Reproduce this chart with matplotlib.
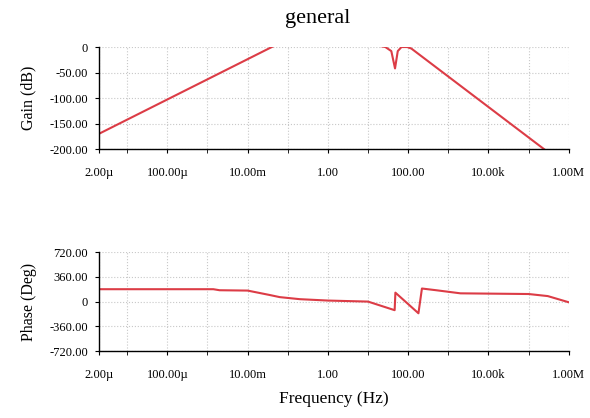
import numpy as np
import matplotlib
matplotlib.use("Agg")
import matplotlib.pyplot as plt
from matplotlib.ticker import NullFormatter

plt.rcParams['font.family'] = ['Liberation Serif', 'DejaVu Serif']

''' Data read off the Bode plot '''
gain_freq = [2e-6, 0.045, 1.0, 20.0, 27.0, 38.0, 47.0, 55.0, 68.0, 95.0, 120.0, 2.4e5, 1e6]
gain_db = [-170, 2, 40, 2, 0, -8, -42, -8, 0, 0, -3, -200, -237]

phase_freq = [2e-6, 1.4e-3, 2e-3, 1e-2, 0.036, 0.063, 0.2, 1.0, 10.0, 46.0, 48.0,
              180.0, 220.0, 500.0, 2000.0, 1e5, 3e5, 1e6]
phase_deg = [180, 180, 165, 160, 95, 65, 35, 15, 0, -125, 130,
             -170, 190, 165, 120, 110, 80, -10]

xtick_vals = [2e-6, 1e-4, 1e-2, 1.0, 1e2, 1e4, 1e6]
xtick_text = ['2.00\u00b5', '100.00\u00b5', '10.00m', '1.00', '100.00', '10.00k', '1.00M']
xminor_vals = [1e-5, 1e-3, 1e-1, 1e1, 1e3, 1e5]

gain_ticks = [0, -50, -100, -150, -200]
gain_text = ['0', '-50.00', '-100.00', '-150.00', '-200.00']
phase_ticks = [720, 360, 0, -360, -720]
phase_text = ['720.00', '360.00', '0', '-360.00', '-720.00']

line_color = '#dc3c46'

fig = plt.figure(figsize=(5.9, 4.18), dpi=100)
ax1 = fig.add_axes([0.168, 0.6435, 0.796, 0.244])
ax2 = fig.add_axes([0.168, 0.160, 0.796, 0.237])


def style(ax, yticks, ytext, ylim, ylabel):
    ax.set_xscale('log')
    ax.set_xlim(2e-6, 1e6)
    ax.set_ylim(*ylim)
    ax.set_xticks(xtick_vals)
    ax.set_xticklabels(xtick_text)
    ax.set_xticks(xminor_vals, minor=True)
    ax.xaxis.set_minor_formatter(NullFormatter())
    ax.set_yticks(yticks)
    ax.set_yticklabels(ytext)
    for s in ['top', 'right']:
        ax.spines[s].set_visible(False)
    for s in ['left', 'bottom']:
        ax.spines[s].set_linewidth(1.0)
    ax.tick_params(axis='both', which='both', direction='out', length=3,
                   labelsize=9, pad=5)
    ax.tick_params(axis='x', which='major', pad=10)
    ax.grid(True, which='both', linestyle=':', color='#c8c8c8', linewidth=0.8)
    ax.set_ylabel(ylabel, fontsize=11.5)
    ax.yaxis.set_label_coords(-0.133, 0.5)


ax1.plot(gain_freq, gain_db, color=line_color, linewidth=1.5)
style(ax1, gain_ticks, gain_text, (-200, 0), 'Gain (dB)')

ax2.plot(phase_freq, phase_deg, color=line_color, linewidth=1.5)
style(ax2, phase_ticks, phase_text, (-720, 720), 'Phase (Deg)')
ax2.set_xlabel('Frequency (Hz)', fontsize=12.5, labelpad=7)

fig.text(0.539, 0.955, 'general', ha='center', va='center', fontsize=16)

fig.savefig('out.png', dpi=100)
